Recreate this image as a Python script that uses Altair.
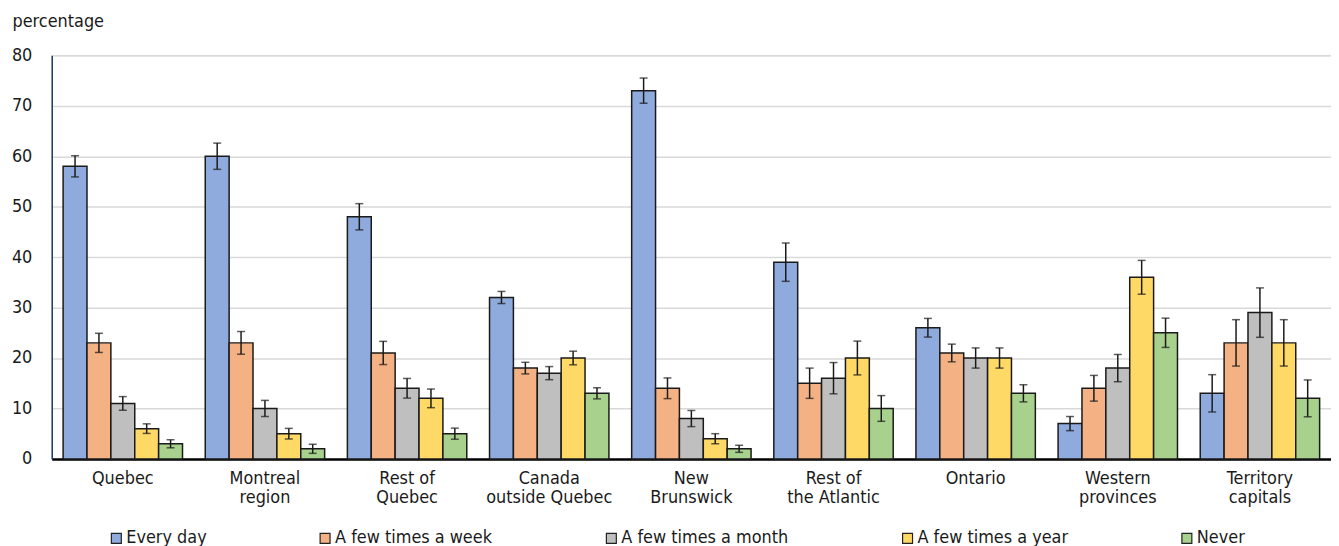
import altair as alt
import pandas as pd

regions = ["Quebec", "Montreal\nregion", "Rest of\nQuebec", "Canada\noutside Quebec",
           "New\nBrunswick", "Rest of\nthe Atlantic", "Ontario", "Western\nprovinces",
           "Territory\ncapitals"]
categories = ["Every day", "A few times a week", "A few times a month",
              "A few times a year", "Never"]
colors = ["#8FAADC", "#F4B183", "#BFBFBF", "#FFD966", "#A9D18E"]

every_day = [58, 60, 48, 32, 73, 39, 26, 7, 13]
week = [23, 23, 21, 18, 14, 15, 21, 14, 23]
month = [11, 10, 14, 17, 8, 16, 20, 18, 29]
year = [6, 5, 12, 20, 4, 20, 20, 36, 23]
never = [3, 2, 5, 13, 2, 10, 13, 25, 12]

err_every_day = [2.1, 2.6, 2.6, 1.2, 2.5, 3.8, 1.85, 1.4, 3.7]
err_week = [1.9, 2.25, 2.3, 1.15, 2.05, 3.0, 1.75, 2.55, 4.6]
err_month = [1.35, 1.6, 1.95, 1.3, 1.6, 3.1, 2.0, 2.7, 4.9]
err_year = [0.95, 1.05, 1.85, 1.35, 1.0, 3.35, 2.0, 3.35, 4.6]
err_never = [0.8, 0.9, 1.1, 1.1, 0.7, 2.55, 1.7, 2.9, 3.65]

series = [every_day, week, month, year, never]
errors = [err_every_day, err_week, err_month, err_year, err_never]

rows = []
for cat, vals, errs in zip(categories, series, errors):
    for reg, v, e in zip(regions, vals, errs):
        rows.append({"region": reg, "category": cat, "value": v,
                     "lo": v - e, "hi": v + e})
df = pd.DataFrame(rows)

FONT = "DejaVu Sans Condensed, Liberation Sans Narrow, Roboto, sans-serif"
TXT = "#1a1a1a"

x_enc = alt.X("region:N", sort=regions,
              scale=alt.Scale(paddingInner=0.16, paddingOuter=0.08),
              axis=alt.Axis(title=None, labelAngle=0, ticks=False,
                            labelExpr="split(datum.label, '\\n')",
                            labelFontSize=18, labelFont=FONT, labelColor=TXT,
                            labelLineHeight=19, labelBaseline="top",
                            labelPadding=11, domainColor="#000000",
                            domainWidth=2.5, grid=False))
xo_enc = alt.XOffset("category:N", sort=categories,
                     scale=alt.Scale(paddingInner=0, paddingOuter=0))

bars = alt.Chart(df).mark_bar(stroke="#1a1a1a", strokeWidth=1.5).encode(
    x=x_enc,
    xOffset=xo_enc,
    y=alt.Y("value:Q",
            scale=alt.Scale(domain=[0, 80], nice=False),
            axis=alt.Axis(title="percentage", values=list(range(0, 90, 10)),
                          ticks=False, labelPadding=20, labelFontSize=18,
                          labelFont=FONT, labelColor=TXT,
                          gridColor="#D9D9D9", gridWidth=1.5,
                          domainColor="#1F3864", domainWidth=1.5,
                          titleAngle=0, titleAlign="left", titleBaseline="middle",
                          titleX=-40, titleY=-34, titleFontSize=18,
                          titleFontWeight="normal", titleFont=FONT,
                          titleColor=TXT)),
    color=alt.Color("category:N", sort=categories,
                    scale=alt.Scale(domain=categories, range=colors),
                    legend=alt.Legend(title=None, orient="none", legendX=56,
                                      legendY=477, direction="horizontal",
                                      columns=5, columnPadding=110,
                                      symbolType="square", symbolSize=100,
                                      symbolStrokeColor="#222222",
                                      symbolStrokeWidth=1.2,
                                      labelFontSize=18, labelFont=FONT,
                                      labelColor=TXT, labelOffset=1,
                                      labelLimit=400, padding=0)),
)

err_rule = alt.Chart(df).mark_rule(color="#1a1a1a", strokeWidth=1.5).encode(
    x=alt.X("region:N", sort=regions),
    xOffset=alt.XOffset("category:N", sort=categories),
    y="lo:Q",
    y2="hi:Q",
)
cap_lo = alt.Chart(df).mark_tick(color="#1a1a1a", size=8, thickness=1.5).encode(
    x=alt.X("region:N", sort=regions),
    xOffset=alt.XOffset("category:N", sort=categories),
    y="lo:Q",
)
cap_hi = alt.Chart(df).mark_tick(color="#1a1a1a", size=8, thickness=1.5).encode(
    x=alt.X("region:N", sort=regions),
    xOffset=alt.XOffset("category:N", sort=categories),
    y="hi:Q",
)

chart = alt.layer(bars, err_rule, cap_lo, cap_hi).properties(
    width=1287, height=406,
    autosize=alt.AutoSizeParams(type="none"),
    padding={"left": 44, "top": 46, "right": 0, "bottom": 86},
).configure_view(stroke="#1F3864", strokeWidth=1.5).configure(background="white")

chart.save("out.html", embed_options={"renderer": "svg", "actions": False})
